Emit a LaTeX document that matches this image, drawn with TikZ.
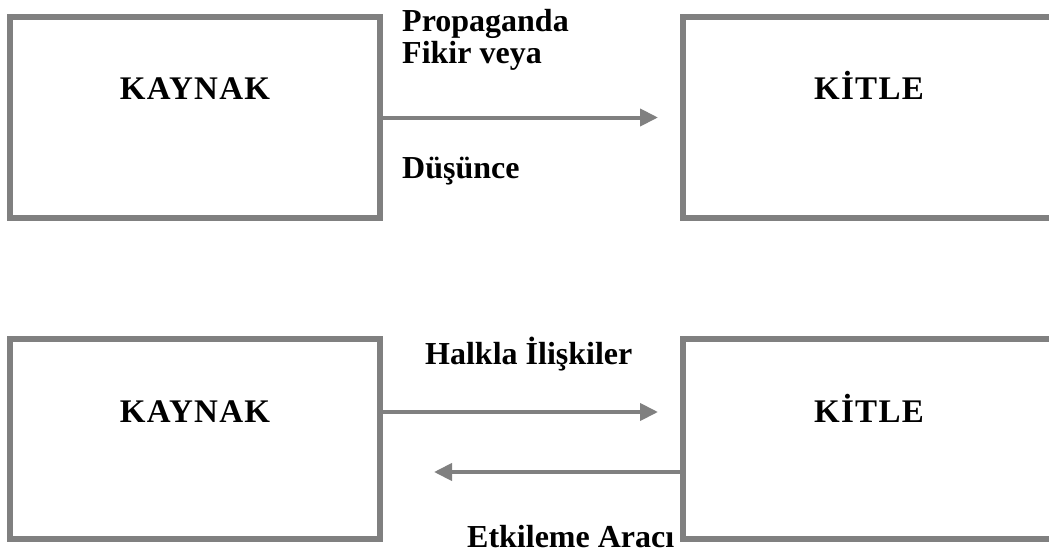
\documentclass[tikz,border=0pt]{standalone}
\usepackage{fontspec}
\setmainfont{Liberation Serif}
\newfontfamily\titlefont[LetterSpace=4]{Liberation Serif}
\usetikzlibrary{arrows.meta}

\begin{document}
\begin{tikzpicture}[x=1pt,y=-1pt,
    box/.style={draw=gray,line width=6pt,minimum width=370pt,minimum height=201pt,inner sep=0pt},
    arr/.style={gray,line width=4pt,-{Triangle[length=18pt,width=17pt]}},
    txt/.style={font=\bfseries\fontsize{32}{33}\selectfont,inner sep=0pt},
    title/.style={txt,font=\titlefont\bfseries\fontsize{33}{34}\selectfont}]
  \clip (0,0) rectangle (1049,554);

  \node[box] (src1) at (195,117.5) {};
  \node[box] (dst1) at (868,117.5) {};
  \node[title,anchor=base] (srcname1) at (195,99) {KAYNAK};
  \node[title,anchor=base] (dstname1) at (869,99) {KİTLE};
  \coordinate (tip1) at ([xshift=275pt]src1.east);
  \draw[arr] (src1.east) -- (tip1);
  \node[txt,anchor=base west] (prop) at (402,31) {Propaganda};
  \node[txt,anchor=base west] (fikir) at (402,63) {Fikir veya};
  \node[txt,anchor=base west] (dus) at (402,178) {Düşünce};

  \node[box,minimum height=200pt] (src2) at (195,439) {};
  \node[box,minimum height=200pt] (dst2) at (868,439) {};
  \node[title,anchor=base] (srcname2) at (195,422) {KAYNAK};
  \node[title,anchor=base] (dstname2) at (869,422) {KİTLE};
  \coordinate (tip2) at ([xshift=275pt,yshift=27pt]src2.east);
  \coordinate (tip3) at ([xshift=-246pt,yshift=-33pt]dst2.west);
  \draw[arr] ([yshift=27pt]src2.east) -- (tip2);
  \draw[arr] ([yshift=-33pt]dst2.west) -- (tip3);
  \node[txt,anchor=base west] (halkla) at (425,364) {Halkla İlişkiler};
  \node[txt,anchor=base west] (etki) at (467,547) {Etkileme Aracı};
\end{tikzpicture}
\end{document}
